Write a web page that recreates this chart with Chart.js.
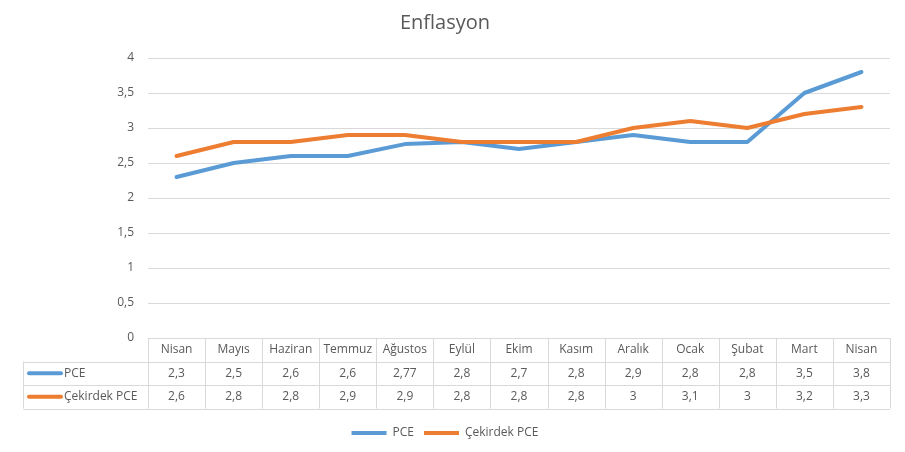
<!DOCTYPE html>
<html><head><meta charset="utf-8">
<script src="https://cdn.jsdelivr.net/npm/chart.js@4/dist/chart.umd.min.js"></script>
<style>html,body{margin:0;padding:0;background:#fff}#wrap{width:905px;height:452px}</style>
</head><body><div id="wrap"><canvas id="c" width="905" height="452"></canvas></div>
<script>
const months = ['Nisan','Mayıs','Haziran','Temmuz','Ağustos','Eylül','Ekim','Kasım','Aralık','Ocak','Şubat','Mart','Nisan'];
const pce = [2.3,2.5,2.6,2.6,2.77,2.8,2.7,2.8,2.9,2.8,2.8,3.5,3.8];
const core = [2.6,2.8,2.8,2.9,2.9,2.8,2.8,2.8,3,3.1,3,3.2,3.3];
const seriesNames = ['PCE','Çekirdek PCE'];
const colors = ['#5B9BD5','#ED7D31'];
const FONT = "'Open Sans', sans-serif";
const TXT = '#595959';
const GRID = '#D9D9D9';
const fmt = v => String(v).replace('.', ',');

const tablePlugin = {
  id: 'dataTable',
  afterDraw(chart) {
    const ctx = chart.ctx, xs = chart.scales.x, area = chart.chartArea;
    const half = (xs.getPixelForValue(1) - xs.getPixelForValue(0)) / 2;
    const left = area.left, right = area.right;
    const y0 = area.bottom, rowH = 23.5;
    const ys = [y0, y0 + rowH, y0 + 2 * rowH, y0 + 3 * rowH];
    const labelLeft = 23.5;
    ctx.save();
    ctx.strokeStyle = GRID; ctx.lineWidth = 1;
    ctx.beginPath();
    ctx.moveTo(left, Math.round(ys[0]) + 0.5); ctx.lineTo(right, Math.round(ys[0]) + 0.5);
    for (let r = 1; r <= 3; r++) { const yy = Math.round(ys[r]) + 0.5; ctx.moveTo(labelLeft, yy); ctx.lineTo(right, yy); }
    for (let i = 0; i <= months.length; i++) {
      const xx = Math.round(xs.getPixelForValue(0) - half + i * 2 * half) + 0.5;
      ctx.moveTo(xx, ys[0]); ctx.lineTo(xx, ys[3]);
    }
    ctx.moveTo(labelLeft, ys[1]); ctx.lineTo(labelLeft, ys[3]);
    ctx.stroke();
    ctx.fillStyle = TXT; ctx.font = '12px ' + FONT; ctx.textAlign = 'center'; ctx.textBaseline = 'middle';
    const rows = [pce, core];
    months.forEach((m, i) => {
      const cx = xs.getPixelForValue(i);
      ctx.fillText(m, cx, ys[0] + rowH / 2);
      rows.forEach((arr, r) => ctx.fillText(fmt(arr[i]), cx, ys[r + 1] + rowH / 2));
    });
    ctx.textAlign = 'left';
    seriesNames.forEach((n, r) => {
      const cy = ys[r + 1] + rowH / 2;
      ctx.strokeStyle = colors[r]; ctx.lineWidth = 4; ctx.lineCap = 'round';
      ctx.beginPath(); ctx.moveTo(29, cy); ctx.lineTo(61, cy); ctx.stroke();
      ctx.fillStyle = TXT; ctx.fillText(n, 64, cy);
    });
    ctx.restore();
  }
};

new Chart(document.getElementById('c'), {
  type: 'line',
  data: {
    labels: months,
    datasets: [
      { label: seriesNames[0], data: pce, borderColor: colors[0], backgroundColor: colors[0], borderWidth: 4, pointRadius: 0, tension: 0, borderCapStyle: 'round', borderJoinStyle: 'round', order: 1 },
      { label: seriesNames[1], data: core, borderColor: colors[1], backgroundColor: colors[1], borderWidth: 4, pointRadius: 0, tension: 0, borderCapStyle: 'round', borderJoinStyle: 'round', order: 0 }
    ]
  },
  options: {
    responsive: false, animation: false, devicePixelRatio: 1,
    layout: { padding: { left: 0, right: 15, top: 0, bottom: 3 } },
    plugins: {
      title: { display: true, text: 'Enflasyon', color: TXT, font: { family: FONT, size: 20, weight: 'normal' }, padding: { top: 11, bottom: 23 } },
      legend: {
        position: 'bottom',
        labels: {
          color: TXT, font: { family: FONT, size: 12 }, boxWidth: 35, boxHeight: 4, padding: 10,
          generateLabels(chart) {
            return chart.data.datasets.map((d, i) => ({
              text: d.label, fillStyle: d.borderColor, strokeStyle: d.borderColor, lineWidth: 0, fontColor: TXT, datasetIndex: i, hidden: false
            }));
          }
        }
      },
      tooltip: { enabled: false }
    },
    scales: {
      x: {
        offset: true,
        grid: { display: false, drawTicks: false },
        border: { display: false },
        ticks: { display: false },
        afterFit(s) { s.height = 79; }
      },
      y: {
        min: 0, max: 4,
        grid: { color: GRID, drawTicks: false },
        border: { display: false },
        ticks: { stepSize: 0.5, color: TXT, font: { family: FONT, size: 12 }, padding: 14, callback: v => fmt(v) },
        afterFit(s) { s.width = 148; }
      }
    }
  },
  plugins: [tablePlugin]
});
</script></body></html>
